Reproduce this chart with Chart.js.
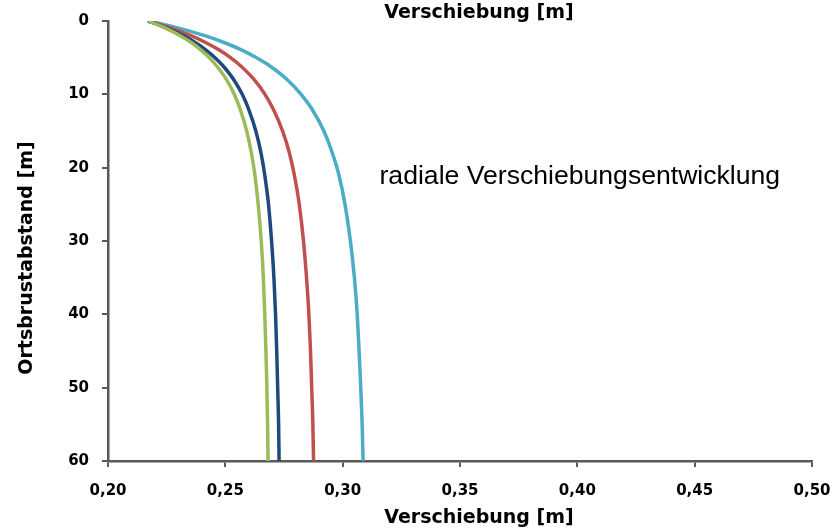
<!DOCTYPE html>
<html>
<head>
<meta charset="utf-8">
<script src="https://cdn.jsdelivr.net/npm/chart.js@4/dist/chart.umd.min.js"></script>
<style>
  html, body { margin: 0; padding: 0; background: #fff; }
  canvas { display: block; }
</style>
</head>
<body>
<canvas id="c" width="836" height="530"></canvas>
<script>
// Ortsbrustabstand [m] (distance from the tunnel face)
const depths = [0, 0.5, 1, 2, 3, 4, 5, 6, 8, 10, 12, 15, 18, 21, 25, 30, 35, 40, 45, 50, 55, 60];

// radial displacement [m] for each case
const uGreen = [0.2170, 0.2211, 0.2247, 0.2308, 0.2358, 0.2398, 0.2432, 0.2460, 0.2505, 0.2538, 0.2563,
                0.2591, 0.2611, 0.2626, 0.2640, 0.2653, 0.2662, 0.2668, 0.2673, 0.2677, 0.2680, 0.2682];
const uNavy  = [0.2170, 0.2214, 0.2254, 0.2321, 0.2375, 0.2419, 0.2456, 0.2487, 0.2536, 0.2572, 0.2599,
                0.2630, 0.2652, 0.2668, 0.2684, 0.2697, 0.2707, 0.2714, 0.2719, 0.2723, 0.2727, 0.2729];
const uRed   = [0.2170, 0.2224, 0.2272, 0.2354, 0.2420, 0.2476, 0.2522, 0.2561, 0.2623, 0.2669, 0.2704,
                0.2744, 0.2773, 0.2794, 0.2815, 0.2833, 0.2846, 0.2856, 0.2863, 0.2868, 0.2873, 0.2876];
const uCyan  = [0.2170, 0.2241, 0.2305, 0.2413, 0.2500, 0.2573, 0.2633, 0.2684, 0.2764, 0.2823, 0.2869,
                0.2920, 0.2956, 0.2984, 0.3010, 0.3033, 0.3050, 0.3062, 0.3070, 0.3077, 0.3083, 0.3087];

// axis ticks
const xTicks = [0.20, 0.25, 0.30, 0.35, 0.40, 0.45, 0.50];
const yTicks = [0, 10, 20, 30, 40, 50, 60];

const xTitle = 'Verschiebung [m]';
const yTitle = 'Ortsbrustabstand [m]';
const noteText = 'radiale Verschiebungsentwicklung';

const series = [
  { values: uGreen, color: '#9BBB59' },
  { values: uNavy,  color: '#1F497D' },
  { values: uRed,   color: '#C0504D' },
  { values: uCyan,  color: '#4BACC6' }
];

const AXIS = '#595959';
const tickFont = { family: 'DejaVu Sans', weight: 'bold', size: 15 };

// axis titles and the note inside the plot
const textPlugin = {
  id: 'texts',
  afterDraw(chart) {
    const ctx = chart.ctx;
    const xs = chart.scales.x, ys = chart.scales.y;
    ctx.save();
    ctx.fillStyle = '#000';
    ctx.font = 'bold 19px "DejaVu Sans"';
    ctx.textAlign = 'center';
    ctx.textBaseline = 'alphabetic';
    ctx.fillText(xTitle, 479, 18);
    ctx.fillText(xTitle, 479, 523);

    ctx.save();
    ctx.translate(27, 258);
    ctx.rotate(-Math.PI / 2);
    ctx.textBaseline = 'middle';
    ctx.fillText(yTitle, 0, 0);
    ctx.restore();

    ctx.font = '26.6px "Liberation Sans"';
    ctx.textAlign = 'left';
    ctx.fillText(noteText, xs.getPixelForValue(0.3157), ys.getPixelForValue(22.2));
    ctx.restore();
  }
};

new Chart(document.getElementById('c'), {
  type: 'scatter',
  data: {
    datasets: series.map(s => ({
      data: depths.map((d, i) => ({ x: s.values[i], y: d })),
      showLine: true,
      borderColor: s.color,
      backgroundColor: s.color,
      borderWidth: 3.5,
      pointRadius: 0,
      cubicInterpolationMode: 'monotone',
      fill: false
    }))
  },
  options: {
    responsive: false,
    animation: false,
    layout: { padding: { left: 0, top: 21, right: 24, bottom: 0 } },
    plugins: { legend: { display: false }, tooltip: { enabled: false } },
    scales: {
      x: {
        type: 'linear',
        position: 'bottom',
        min: 0.20,
        max: 0.50,
        afterBuildTicks: s => { s.ticks = xTicks.map(v => ({ value: v })); },
        afterFit: s => { s.height = 69; s.paddingLeft = 0; s.paddingRight = 0; },
        ticks: {
          callback: v => Number(v).toFixed(2).replace('.', ','),
          font: tickFont,
          color: '#000',
          padding: 15,
          maxRotation: 0,
          autoSkip: false
        },
        grid: { display: true, drawOnChartArea: false, drawTicks: true, tickLength: 6, color: AXIS, lineWidth: 2 },
        border: { display: true, color: AXIS, width: 2.5 }
      },
      y: {
        type: 'linear',
        position: 'left',
        reverse: true,
        min: 0,
        max: 60,
        afterBuildTicks: s => { s.ticks = yTicks.map(v => ({ value: v })); },
        afterFit: s => { s.width = 108; s.paddingTop = 0; s.paddingBottom = 0; },
        ticks: {
          font: tickFont,
          color: '#000',
          padding: 13,
          autoSkip: false
        },
        grid: { display: true, drawOnChartArea: false, drawTicks: true, tickLength: 6, color: AXIS, lineWidth: 2 },
        border: { display: true, color: AXIS, width: 2.5 }
      }
    }
  },
  plugins: [textPlugin]
});
</script>
</body>
</html>
